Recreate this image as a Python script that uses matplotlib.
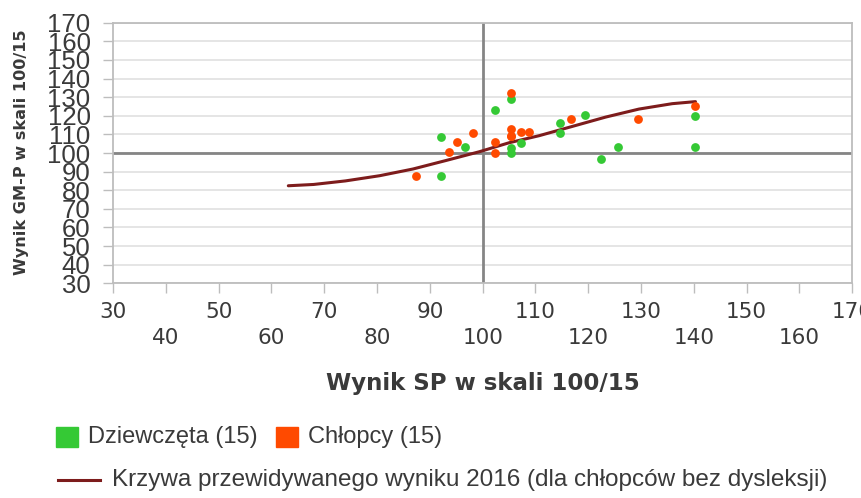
import matplotlib

matplotlib.use("Agg")
import matplotlib.pyplot as plt
from matplotlib.patches import Rectangle
from matplotlib.lines import Line2D

# Dziewczęta (girls): SP score vs GM-P score
girls_sp = [92.2, 92.2, 96.7, 102.3, 105.4, 105.4, 105.4, 107.3, 114.7, 114.7,
            119.4, 122.4, 125.7, 140.3, 140.3]
girls_gm = [108.6, 87.4, 103.2, 123.3, 129.0, 102.7, 100.0, 105.4, 116.2, 110.7,
            120.6, 96.9, 103.2, 120.1, 103.2]

# Chłopcy (boys)
boys_sp = [87.4, 93.7, 95.2, 98.2, 102.3, 102.3, 105.3, 105.3, 105.3, 105.3,
           107.3, 108.7, 116.8, 129.5, 140.3]
boys_gm = [87.4, 100.3, 105.7, 110.7, 105.7, 100.0, 132.2, 112.9, 108.9, 108.9,
           111.1, 111.1, 118.3, 118.3, 125.4]

# predicted-score curve 2016
curve_sp = [63.2, 68.0, 74.0, 80.5, 86.8, 93.1, 99.4, 105.0, 110.7, 117.0,
            123.3, 129.6, 135.9, 140.3]
curve_gm = [82.4, 83.1, 85.0, 87.8, 91.4, 96.0, 100.7, 105.5, 109.3, 114.3,
            119.3, 123.6, 126.5, 127.6]

x_ticks = list(range(30, 171, 10))
y_ticks = list(range(30, 171, 10))

GREEN = "#35c935"
ORANGE = "#ff4a00"
CURVE = "#7d1c1c"
TEXT = "#3a3a3a"

W, H = 861, 498
fig = plt.figure(figsize=(W / 100, H / 100), dpi=100)
ax = fig.add_axes([113 / W, 1 - 283.3 / H, (852.3 - 113) / W, (283.3 - 22.7) / H])

ax.set_xlim(30, 170)
ax.set_ylim(30, 170)

for v in y_ticks:
    ax.axhline(v, color="#e3e3e3", linewidth=1.3, zorder=0)
ax.axhline(100, color="#858585", linewidth=2.0, zorder=1)
ax.axvline(100, color="#858585", linewidth=2.0, zorder=1)

ax.plot(curve_sp, curve_gm, color=CURVE, linewidth=2.2, zorder=2,
        solid_capstyle="round")
ax.scatter(girls_sp, girls_gm, s=40, color=GREEN, linewidths=0, zorder=3)
ax.scatter(boys_sp, boys_gm, s=40, color=ORANGE, linewidths=0, zorder=4)

for s in ax.spines.values():
    s.set_color("#bdbdbd")
    s.set_linewidth(1.3)

ax.set_yticks(y_ticks)
ax.set_yticklabels([str(v) for v in y_ticks], fontsize=18.5,
                   family="Liberation Sans", color=TEXT)
ax.set_xticks(x_ticks)
ax.set_xticklabels([str(v) if i % 2 == 0 else "\n" + str(v)
                    for i, v in enumerate(x_ticks)],
                   fontsize=15.5, family="DejaVu Sans", color=TEXT,
                   linespacing=1.4)
ax.tick_params(axis="y", length=7.2, width=1.0, color="#bdbdbd", pad=9)
ax.tick_params(axis="x", length=7.2, width=1.0, color="#bdbdbd", pad=6)

ax.set_xlabel("Wynik SP w skali 100/15", fontsize=16.5, fontweight="bold",
              color=TEXT, labelpad=17)
fig.text(22 / W, 1 - 152 / H, "Wynik GM-P w skali 100/15", rotation=90,
         ha="center", va="center", fontsize=11.6, fontweight="bold", color=TEXT)

# legend
def px(x, y):
    return x / W, 1 - y / H

fig.add_artist(Rectangle(px(56, 447), 22 / W, 20 / H, color=GREEN,
                         transform=fig.transFigure))
fig.text(*px(88, 437), "Dziewczęta (15)", family="Liberation Sans",
         fontsize=17, color=TEXT, va="center")
fig.add_artist(Rectangle(px(276, 447), 22 / W, 20 / H, color=ORANGE,
                         transform=fig.transFigure))
fig.text(*px(308, 437), "Chłopcy (15)", family="Liberation Sans",
         fontsize=17, color=TEXT, va="center")
fig.add_artist(Line2D([58 / W, 100 / W], [1 - 480 / H, 1 - 480 / H],
                      color=CURVE, linewidth=2.2, transform=fig.transFigure))
fig.text(*px(112, 480), "Krzywa przewidywanego wyniku 2016 (dla chłopców bez dysleksji)",
         family="Liberation Sans", fontsize=17.5, color=TEXT, va="center")

fig.savefig("out.png", dpi=100)
